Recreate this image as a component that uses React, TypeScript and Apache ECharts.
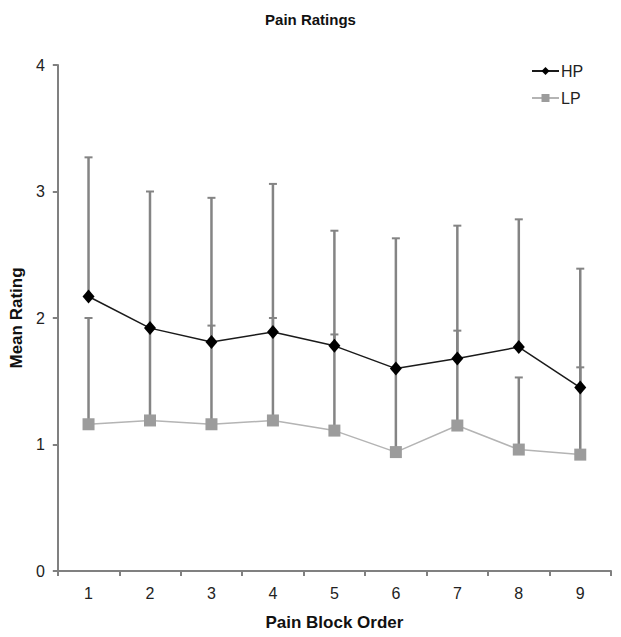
import React, { useEffect, useRef } from "react";
import * as echarts from "echarts";

const categories = ["1", "2", "3", "4", "5", "6", "7", "8", "9"];
const hpMean = [2.17, 1.92, 1.81, 1.89, 1.78, 1.6, 1.68, 1.77, 1.45];
const hpUpper = [3.27, 3.0, 2.95, 3.06, 2.69, 2.63, 2.73, 2.78, 2.39];
const lpMean = [1.16, 1.19, 1.16, 1.19, 1.11, 0.94, 1.15, 0.96, 0.92];
const lpUpper = [2.0, 1.92, 1.94, 2.0, 1.87, 1.6, 1.9, 1.53, 1.61];
const yTicks = [0, 1, 2, 3, 4];

const FONT = "'Liberation Sans', Arial, sans-serif";
const ERR_COLOR = "#848484";

function errorSeries(name: string, mean: number[], upper: number[]) {
  return {
    type: "custom",
    name: name + "-err",
    z: 1,
    silent: true,
    data: mean.map((m, i) => [i, m, upper[i]]),
    renderItem: (params: any, api: any) => {
      const x = api.value(0);
      const lo = api.coord([x, api.value(1)]);
      const hi = api.coord([x, api.value(2)]);
      const w = 4;
      return {
        type: "group",
        children: [
          {
            type: "line",
            shape: { x1: lo[0], y1: lo[1], x2: hi[0], y2: hi[1] },
            style: { stroke: ERR_COLOR, lineWidth: 2.5 },
          },
          {
            type: "line",
            shape: { x1: hi[0] - w, y1: hi[1], x2: hi[0] + w, y2: hi[1] },
            style: { stroke: ERR_COLOR, lineWidth: 2 },
          },
        ],
      };
    },
  };
}

export default function App() {
  const ref = useRef<HTMLDivElement>(null);
  useEffect(() => {
    if (!ref.current) return;
    const chart = echarts.init(ref.current, undefined, { renderer: "svg" });
    chart.setOption({
      animation: false,
      backgroundColor: "#ffffff",
      title: {
        text: "Pain Ratings",
        left: "center",
        top: 7,
        textStyle: { fontFamily: FONT, fontSize: 15, fontWeight: "bold", color: "#111" },
      },
      legend: {
        data: ["HP", "LP"],
        orient: "vertical",
        left: 526,
        top: 58,
        itemWidth: 27,
        itemHeight: 10,
        itemGap: 11,
        textStyle: { fontFamily: FONT, fontSize: 16, color: "#222", padding: [0, 0, 0, -3] },
      },
      grid: { left: 57, right: 10, top: 65, bottom: 66, containLabel: false },
      xAxis: {
        type: "category",
        data: categories,
        boundaryGap: true,
        name: "Pain Block Order",
        nameLocation: "middle",
        nameGap: 43,
        nameTextStyle: { fontFamily: FONT, fontSize: 17, fontWeight: "bold", color: "#111" },
        axisLine: { lineStyle: { color: "#808080", width: 2 } },
        axisTick: { show: true, length: 5, alignWithLabel: false, interval: 0, lineStyle: { color: "#808080", width: 2 } },
        axisLabel: { fontFamily: FONT, fontSize: 16, color: "#222", margin: 14 },
        splitLine: { show: false },
      },
      yAxis: {
        type: "value",
        min: yTicks[0],
        max: yTicks[yTicks.length - 1],
        interval: 1,
        name: "Mean Rating",
        nameLocation: "middle",
        nameGap: 31,
        nameTextStyle: { fontFamily: FONT, fontSize: 17, fontWeight: "bold", color: "#111" },
        axisLine: { show: true, lineStyle: { color: "#808080", width: 2 } },
        axisTick: { show: true, length: 5, lineStyle: { color: "#808080", width: 2 } },
        axisLabel: { fontFamily: FONT, fontSize: 16, color: "#222", margin: 13 },
        splitLine: { show: false },
      },
      series: [
        errorSeries("LP", lpMean, lpUpper),
        errorSeries("HP", hpMean, hpUpper),
        {
          type: "line",
          name: "LP",
          data: lpMean,
          z: 3,
          symbol: "rect",
          symbolSize: 12,
          lineStyle: { color: "#b4b4b4", width: 1.5 },
          itemStyle: { color: "#9c9c9c" },
        },
        {
          type: "line",
          name: "HP",
          data: hpMean,
          z: 4,
          symbol: "diamond",
          symbolSize: [12, 14],
          lineStyle: { color: "#1a1a1a", width: 1.5 },
          itemStyle: { color: "#000000" },
        },
      ],
    });
    return () => chart.dispose();
  }, []);
  return (
    <div
      ref={ref}
      style={{ position: "fixed", left: 0, top: 0, width: 621, height: 637 }}
    />
  );
}
